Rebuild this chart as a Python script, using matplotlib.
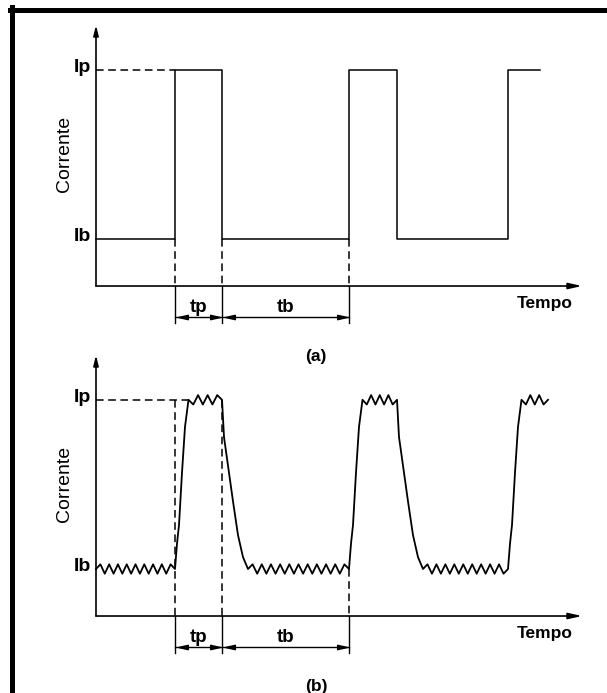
# Imports-------------------------------------
import numpy as np
import matplotlib.pyplot as plt
from matplotlib.lines import Line2D

plt.rcParams['font.family'] = ['Liberation Sans', 'DejaVu Sans']

# Dados do pulso (tempo e corrente em unidades arbitrárias)
t_subida = [7.9, 25.3, 41.2]      # início de cada subida
t_descida = [12.6, 30.1]          # início de cada descida
t_fim_a = 44.4
t_fim_b = 45.2
I_b = 1.0                          # corrente de base
I_p = 4.6                          # corrente de pico

# Forma das rampas no caso (b): deslocamento no tempo e fração de (Ip - Ib)
subida_dt = [0.0, 0.2, 0.4, 0.7, 1.0, 1.35]
subida_frac = [0.0, 0.15, 0.26, 0.57, 0.84, 1.0]
descida_dt = [0.0, 0.2, 1.1, 1.6, 2.1, 2.6]
descida_frac = [0.0, 0.22, 0.6, 0.8, 0.93, 1.0]

rotulos_nivel = ['Ip', 'Ib']
rotulos_tempo = ['tp', 'tb']

# estilo
LW = 1.1
DASH = (5, 3)
MEIO_PERIODO = 0.45    # ondulação da corrente
AMP = 0.1
FS = 12.5

fig = plt.figure(figsize=(6.07, 6.93), dpi=100)
W, H = 607.0, 693.0

# moldura (só esquerda e topo)
fig.add_artist(Line2D([12.5 / W, 12.5 / W], [0, 1 - 7 / H], color='black', lw=3.6))
fig.add_artist(Line2D([10 / W, 1], [1 - 9.5 / H, 1 - 9.5 / H], color='black', lw=3.6))


def ondulacao(t0, t1, nivel, sinal):
    n = max(2, int(round((t1 - t0) / MEIO_PERIODO)))
    ts = np.linspace(t0, t1, n + 1)
    s = [0] + [sinal * (-1) ** k for k in range(n - 1)] + [0]
    return list(ts), list(nivel + AMP * np.array(s))


def eixos(topo_px, legenda):
    ax = fig.add_axes([20 / W, 1 - (topo_px + 330) / H, 580 / W, 330 / H])
    ax.set_xlim(-7.6, 50.4)
    ax.set_ylim(-1.255, 5.766)
    ax.axis('off')

    # eixos com seta
    ax.annotate('', xy=(0, 5.55), xytext=(0, 0),
                arrowprops=dict(arrowstyle='-|>,head_length=0.6,head_width=0.15',
                                lw=1.2, color='black', mutation_scale=10,
                                shrinkA=0, shrinkB=0))
    ax.annotate('', xy=(48.6, 0), xytext=(0, 0),
                arrowprops=dict(arrowstyle='-|>,head_length=0.8,head_width=0.18',
                                lw=1.2, color='black', mutation_scale=10,
                                shrinkA=0, shrinkB=0))

    ax.text(-0.5, I_p - 0.04, rotulos_nivel[0], fontsize=FS + 1.5, fontweight='bold',
            ha='right', va='baseline')
    ax.text(-0.5, I_b - 0.04, rotulos_nivel[1], fontsize=FS + 1.5, fontweight='bold',
            ha='right', va='baseline')
    ax.text(-3.1, 2.8, 'Corrente', fontsize=14, rotation=90, ha='center', va='center')
    ax.text(44.9, -0.47, 'Tempo', fontsize=FS, fontweight='bold', ha='center', va='baseline')
    ax.text(22.0, -1.51, legenda, fontsize=FS, fontweight='bold', ha='center', va='center')

    # cotas tp e tb
    y_cota = -0.66
    limites = [t_subida[0], t_descida[0], t_subida[1]]
    for k in range(2):
        a, b = limites[k], limites[k + 1]
        ax.plot([a, b], [y_cota, y_cota], color='black', lw=1.0)
        ax.plot(a + 0.75, y_cota, marker=[(-1, 0), (1, 0.45), (1, -0.45), (-1, 0)],
                ms=7, color='black')
        ax.plot(b - 0.75, y_cota, marker=[(1, 0), (-1, 0.45), (-1, -0.45), (1, 0)],
                ms=7, color='black')
        ax.text((a + b) / 2, y_cota + 0.11, rotulos_tempo[k], fontsize=FS + 1,
                fontweight='bold', ha='center', va='baseline')
    for t in limites:
        ax.plot([t, t], [0, -0.787], color='black', lw=1.0)
    return ax, limites


#Corrente pulsada ideal (a)----------------------
ax, limites = eixos(15, '(a)')
tempos = [0, t_subida[0], t_descida[0], t_subida[1], t_descida[1], t_subida[2], t_fim_a]
niveis = [I_b, I_p, I_b, I_p, I_b, I_p, I_p]
ax.step(tempos, niveis, where='post', color='black', lw=LW)
ax.plot([0, t_subida[0]], [I_p, I_p], color='black', lw=LW, dashes=DASH)
for t in limites:
    ax.plot([t, t], [I_b, 0], color='black', lw=LW, dashes=DASH)

#Corrente pulsada real (b)-----------------------
ax, limites = eixos(345, '(b)')
dI = I_p - I_b
xs, ys = ondulacao(0, t_subida[0], I_b, 1)
for k, ts in enumerate(t_subida):
    xs += [ts + d for d in subida_dt]
    ys += [I_b + f * dI for f in subida_frac]
    t_topo = ts + subida_dt[-1]
    t_fim = t_descida[k] if k < len(t_descida) else t_fim_b
    ox, oy = ondulacao(t_topo, t_fim, I_p, -1)
    xs += ox
    ys += oy
    if k < len(t_descida):
        xs += [t_descida[k] + d for d in descida_dt]
        ys += [I_p - f * dI for f in descida_frac]
        ox, oy = ondulacao(t_descida[k] + descida_dt[-1], t_subida[k + 1], I_b, 1)
        xs += ox
        ys += oy
ax.plot(xs, ys, color='black', lw=1.3)

ax.plot([0, t_subida[0] + subida_dt[-1]], [I_p, I_p], color='black', lw=LW, dashes=DASH)
ax.plot([limites[0]] * 2, [I_p, 0], color='black', lw=LW, dashes=DASH)
ax.plot([limites[1]] * 2, [I_p, 0], color='black', lw=LW, dashes=DASH)
ax.plot([limites[2]] * 2, [I_b, 0], color='black', lw=LW, dashes=DASH)

plt.savefig('out.png', dpi=100)
